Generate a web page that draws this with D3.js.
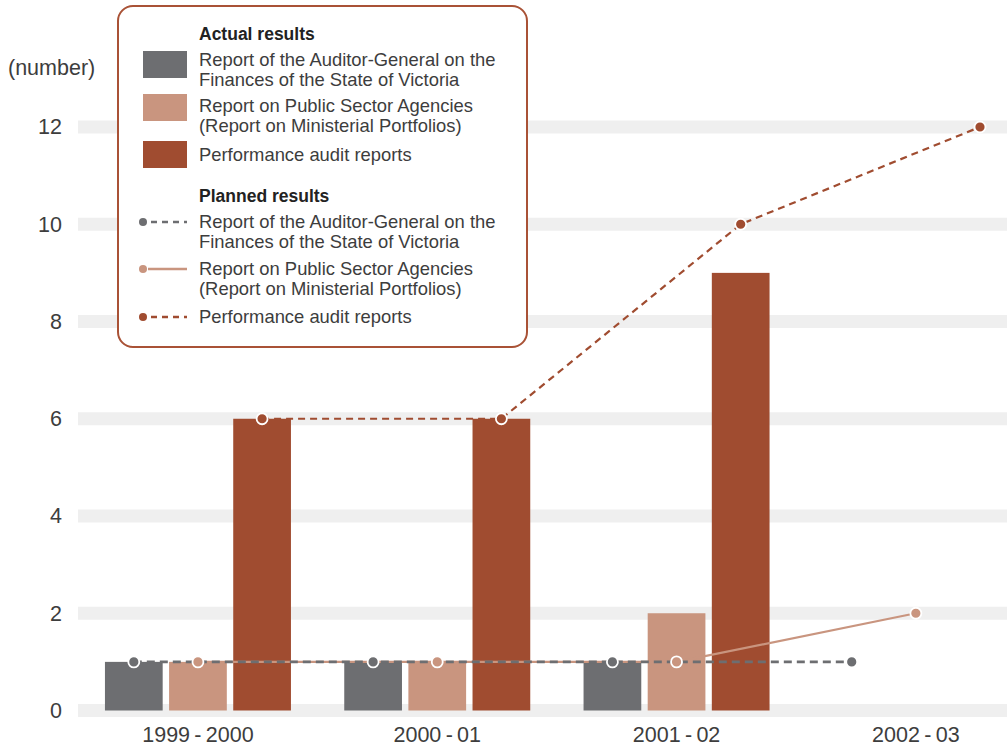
<!DOCTYPE html>
<html>
<head>
<meta charset="utf-8">
<script src="https://cdn.jsdelivr.net/npm/d3@7"></script>
<style>
  html, body { margin: 0; padding: 0; background: #fff; }
  svg { display: block; font-family: "Liberation Sans", Arial, Helvetica, sans-serif; }
</style>
</head>
<body>
<svg id="chart" width="1007" height="754"></svg>
<script>
// Years reported on
const years = ["1999\u2009-\u20092000", "2000\u2009-\u200901", "2001\u2009-\u200902", "2002\u2009-\u200903"];
const seriesKeys = ["ag", "psa", "perf"];
const seriesNames = [
  ["Report of the Auditor-General on the", "Finances of the State of Victoria"],
  ["Report on Public Sector Agencies", "(Report on Ministerial Portfolios)"],
  ["Performance audit reports"]
];
const seriesColors = ["#6d6e71", "#c9957f", "#a04c30"];

// Actual results (bars) – 1999-2000 to 2001-02
const actualAG = [1, 1, 1];
const actualPSA = [1, 1, 2];
const actualPerf = [6, 6, 9];

// Planned results (lines) – 1999-2000 to 2002-03
const plannedAG = [1, 1, 1, 1];
const plannedPSA = [1, 1, 1, 2];
const plannedPerf = [6, 6, 10, 12];

const yTicks = [0, 2, 4, 6, 8, 10, 12];

const svg = d3.select("#chart");
const textColor = "#3d3d3d";
const axisFont = 21.5;

const x = d3.scaleBand().domain(years).range([78.3, 1035.5]).padding(0);
const xs = d3.scaleBand().domain(seriesKeys).paddingInner(0.1).paddingOuter(0);
const y = d3.scaleLinear().domain([0, 12]).range([710.5, 127]);

function groupCenter(yr) { return x(yr) + x.bandwidth() / 2; }
function subX(yr, key) {
  const c = groupCenter(yr);
  xs.range([c - 93, c + 93]);
  return xs(key);
}
function subCenter(yr, key) { return subX(yr, key) + xs.bandwidth() / 2; }

// Horizontal grid bands
svg.append("g").selectAll("rect").data(yTicks).join("rect")
  .attr("x", 78).attr("width", 1007 - 78)
  .attr("y", d => y(d) - 6.5).attr("height", 13)
  .attr("fill", "#efefef");

// Y axis labels
const yAxis = d3.axisLeft(y).tickValues(yTicks).tickSize(0).tickPadding(0);
const yg = svg.append("g").attr("transform", "translate(62,0)").call(yAxis);
yg.select(".domain").remove();
yg.selectAll("text").attr("font-size", axisFont).attr("fill", textColor)
  .attr("font-family", "'Liberation Sans', Arial, sans-serif");

svg.append("text").attr("x", 8).attr("y", 75)
  .attr("font-size", axisFont).attr("fill", textColor).text("(number)");

// X axis labels
const xAxis = d3.axisBottom(x).tickSize(0).tickPadding(0);
const xg = svg.append("g").attr("transform", "translate(0,727)").call(xAxis);
xg.select(".domain").remove();
xg.selectAll("text").attr("font-size", axisFont).attr("fill", textColor)
  .attr("font-family", "'Liberation Sans', Arial, sans-serif");

// Bars: actual results
const actual = [actualAG, actualPSA, actualPerf];
const barRows = [];
actual.forEach((vals, si) => vals.forEach((v, i) => barRows.push({ yr: years[i], key: seriesKeys[si], v, si })));
svg.append("g").selectAll("rect").data(barRows).join("rect")
  .attr("x", d => subX(d.yr, d.key))
  .attr("width", xs.bandwidth())
  .attr("y", d => y(d.v))
  .attr("height", d => y(0) - y(d.v))
  .attr("fill", d => seriesColors[d.si]);

// Lines: planned results
const planned = [plannedAG, plannedPSA, plannedPerf];
const lineStyles = [
  { width: 2.6, dash: "8,5" },
  { width: 2.2, dash: null },
  { width: 2.2, dash: "7,5" }
];
const line = d3.line().x(d => d.x).y(d => d.y);
const pts = planned.map((vals, si) => vals.map((v, i) => ({ x: subCenter(years[i], seriesKeys[si]), y: y(v), si })));

// draw order: agencies line below, auditor-general dashes over it, performance last
[1, 0, 2].forEach(si => {
  const p = svg.append("path").datum(pts[si])
    .attr("d", line).attr("fill", "none")
    .attr("stroke", seriesColors[si])
    .attr("stroke-width", lineStyles[si].width);
  if (lineStyles[si].dash) p.attr("stroke-dasharray", lineStyles[si].dash);
});
[1, 0, 2].forEach(si => {
  svg.append("g").selectAll("circle").data(pts[si]).join("circle")
    .attr("cx", d => d.x).attr("cy", d => d.y).attr("r", 5.5)
    .attr("fill", seriesColors[si])
    .attr("stroke", "#fff").attr("stroke-width", 1.8);
});

// Legend
const lg = svg.append("g");
lg.append("rect").attr("x", 118).attr("y", 6).attr("width", 409).attr("height", 341)
  .attr("rx", 15).attr("ry", 15)
  .attr("fill", "#fff").attr("stroke", "#a95236").attr("stroke-width", 2);

const lx = 199, fs = 18.4;
lg.append("text").attr("x", lx).attr("y", 40).attr("font-size", 17.5).attr("font-weight", "bold")
  .attr("fill", "#222").text("Actual results");
lg.append("text").attr("x", lx).attr("y", 202).attr("font-size", 17.5).attr("font-weight", "bold")
  .attr("fill", "#222").text("Planned results");

const actualRows = [66, 112, 161];
const swatchY = [51, 94, 141];
seriesNames.forEach((lines, si) => {
  lg.append("rect").attr("x", 143).attr("y", swatchY[si]).attr("width", 44).attr("height", 27)
    .attr("fill", seriesColors[si]);
  const t = lg.append("text").attr("x", lx).attr("y", actualRows[si]).attr("font-size", fs).attr("fill", textColor);
  lines.forEach((s, j) => t.append("tspan").attr("x", lx).attr("dy", j ? 20 : 0).text(s));
});

const plannedRows = [228, 275, 323];
const symY = [222, 269, 317];
seriesNames.forEach((lines, si) => {
  const l = lg.append("line").attr("x1", 148).attr("x2", 187).attr("y1", symY[si]).attr("y2", symY[si])
    .attr("stroke", seriesColors[si]).attr("stroke-width", 2.4);
  if (lineStyles[si].dash) l.attr("stroke-dasharray", "6,5").attr("x1", 151);
  lg.append("circle").attr("cx", 143).attr("cy", symY[si]).attr("r", 4).attr("fill", seriesColors[si]);
  const t = lg.append("text").attr("x", lx).attr("y", plannedRows[si]).attr("font-size", fs).attr("fill", textColor);
  lines.forEach((s, j) => t.append("tspan").attr("x", lx).attr("dy", j ? 20 : 0).text(s));
});
</script>
</body>
</html>
